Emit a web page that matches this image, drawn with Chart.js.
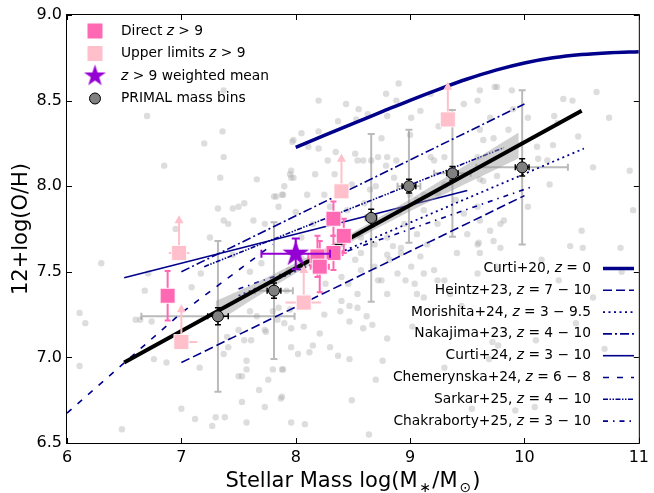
<!DOCTYPE html>
<html>
<head>
<meta charset="utf-8">
<title>Mass-metallicity relation</title>
<script src="https://cdn.jsdelivr.net/npm/chart.js@4.4.1/dist/chart.umd.min.js"></script>
<style>
  html, body { margin: 0; padding: 0; background: #fff; }
  canvas { display: block; }
</style>
</head>
<body>
<canvas id="mzr" width="654" height="493"></canvas>
<script>
const FONT = '"DejaVu Sans", sans-serif';
const NAVY = '#00008B';

// Background PRIMAL galaxies (grey dots).
const bgMass = [
  6.70, 7.37, 7.36, 7.37, 7.34, 7.66, 7.97, 7.96,
  6.11, 6.16, 6.11, 6.48, 7.00, 7.12, 7.27, 7.30, 7.57,
  7.32, 7.45, 7.50, 7.55, 7.37, 7.41, 7.63, 7.73, 7.83, 7.89,
  6.68, 6.71, 6.60, 6.64, 6.74, 6.76, 6.87, 7.16, 7.09, 7.17,
  7.40, 7.41, 7.37, 7.50, 7.55, 7.61, 7.57, 7.50, 7.53, 7.57,
  7.68, 7.76, 7.89, 7.80, 7.87, 7.73, 7.53, 7.38,
  7.73, 7.74, 7.84, 7.90, 7.66, 7.60, 7.80, 7.96,
  8.20, 8.44, 8.53, 8.63, 8.79, 8.88, 8.80, 9.01, 9.09, 9.18,
  9.74, 9.70, 9.61, 9.73, 7.98, 8.05, 7.98, 7.88, 8.52, 8.59,
  8.72, 8.79, 8.88, 9.21, 9.30, 9.59, 9.12, 9.24, 9.59, 9.61,
  9.82, 9.50, 9.59, 9.73, 9.41, 9.61, 8.80, 8.85, 8.80, 8.92,
  9.01, 9.09, 9.12, 8.57, 8.57, 8.69, 8.75, 8.80, 8.96, 7.94,
  7.92, 8.46, 8.54, 8.40,
  9.61, 9.76, 9.89, 10.34, 10.42, 10.63, 10.03, 10.26, 10.29, 9.86,
  9.64, 10.11, 10.25, 10.47, 10.12, 10.60, 10.74, 10.92, 10.95, 9.61,
  9.76, 10.22, 10.03, 9.79, 10.50, 9.60, 9.79, 10.15, 10.40, 10.51,
  10.84,
  8.47, 8.54, 8.39, 8.62, 8.47, 8.59, 8.67, 7.96, 8.07, 8.21,
  8.15, 8.30, 8.12, 8.02, 8.37, 8.47, 7.88, 8.70, 7.88, 8.49,
  7.96, 8.08, 8.64, 8.76, 8.80, 9.02,
  7.81, 7.85, 7.96, 8.17, 8.34, 8.49, 8.54, 8.66, 8.80, 8.86,
  9.18, 9.30, 9.06, 9.12, 9.24, 9.06, 8.92, 8.82, 8.69, 8.54,
  8.52, 8.57, 8.40, 8.26, 8.72, 8.89, 9.04, 9.21, 9.30, 9.12,
  7.85,
  9.72, 9.77, 9.69, 9.30, 10.10, 9.54, 9.92, 10.09,
  8.00, 8.10, 8.05, 8.15, 8.25, 8.00, 8.45, 8.60, 8.70, 8.35,
  8.20, 7.70, 7.60, 7.75, 7.95, 8.10, 8.25, 8.90, 9.00, 9.45,
  7.90, 7.95, 8.11, 8.28, 8.37, 8.20, 9.47, 9.59, 9.64, 9.47,
  9.70, 9.24, 9.06, 9.35, 9.59, 9.76, 8.65, 8.95, 9.15, 9.40,
  8.30, 8.05, 8.75, 9.00, 9.25, 10.30, 10.60, 10.85, 10.45, 10.70,
  6.95, 6.30, 6.85, 7.20, 8.55, 8.90, 9.90, 10.20, 7.45, 7.25
];
const bgOH = [
  8.41, 8.56, 8.32, 8.17, 8.05, 8.04, 8.26, 8.05,
  7.26, 7.20, 6.95, 6.58, 6.70, 6.64, 6.60, 6.65, 6.62,
  7.87, 7.87, 7.88, 7.90, 7.80, 7.78, 7.80, 7.78, 7.94, 7.95,
  7.39, 7.49, 7.22, 7.22, 7.21, 6.99, 6.97, 6.94, 7.41, 7.49,
  7.12, 7.06, 7.02, 7.16, 7.10, 7.10, 6.98, 6.89, 6.89, 6.93,
  6.81, 6.87, 6.93, 6.93, 6.76, 6.71, 6.74, 6.65,
  7.16, 7.15, 7.22, 7.20, 7.24, 7.27, 7.27, 7.06,
  8.50, 8.48, 8.39, 8.42, 8.54, 8.50, 8.41, 8.40, 8.44, 8.54,
  8.58, 8.40, 8.33, 8.28, 8.27, 8.31, 8.05, 7.95, 8.19, 8.15,
  8.17, 8.12, 8.15, 8.15, 8.17, 8.17, 7.95, 7.96, 7.88, 7.80,
  7.80, 7.72, 7.66, 7.68, 7.61, 7.61, 7.70, 7.65, 7.60, 7.61,
  7.53, 7.59, 7.49, 7.70, 7.61, 7.53, 7.45, 7.37, 7.45, 7.51,
  7.39, 7.43, 7.37, 7.33,
  8.56, 8.58, 8.56, 8.51, 8.50, 8.55, 8.40, 8.41, 8.37, 8.33,
  8.27, 8.23, 8.24, 8.29, 8.16, 8.11, 8.40, 8.09, 7.86, 8.04,
  8.06, 8.01, 7.88, 7.78, 7.74, 7.67, 7.64, 7.57, 7.65, 7.64,
  7.64,
  7.30, 7.29, 7.27, 7.24, 7.21, 7.17, 7.19, 7.17, 7.18, 7.14,
  7.07, 7.06, 7.03, 7.02, 7.01, 6.99, 6.93, 6.87, 6.77, 6.75,
  6.62, 6.61, 6.55, 6.98, 7.11, 7.18,
  7.94, 7.88, 8.09, 8.07, 8.07, 8.01, 8.15, 8.15, 8.17, 8.05,
  8.17, 8.01, 7.92, 7.86, 7.78, 7.72, 7.64, 7.57, 7.66, 7.72,
  7.57, 7.51, 7.47, 7.43, 7.45, 7.49, 7.43, 7.51, 7.45, 7.35,
  7.29,
  7.09, 7.07, 6.99, 6.94, 7.10, 6.70, 6.69, 6.71,
  7.85, 7.95, 7.70, 7.78, 7.95, 7.62, 7.86, 7.90, 8.00, 8.20,
  8.22, 7.55, 7.50, 7.42, 7.28, 7.35, 7.25, 7.85, 7.95, 7.30,
  8.00, 8.07, 8.23, 8.15, 8.38, 8.32, 8.48, 8.50, 8.03, 7.84,
  7.74, 7.45, 7.37, 7.37, 7.49, 7.53, 7.98, 7.78, 7.66, 7.92,
  7.88, 7.58, 8.28, 8.30, 8.35, 7.45, 7.35, 7.50, 7.20, 7.05,
  7.75, 7.55, 8.12, 8.25, 8.45, 8.60, 8.45, 8.15, 7.60, 7.70
];

// PRIMAL mass bins: median, spread (grey) and error on the median (black).
const primalMass = [7.32, 7.81, 8.66, 8.99, 9.37, 9.98];
const primalOH = [7.24, 7.39, 7.815, 8.0, 8.075, 8.11];
const primalMassSpread = [0.67, 0.165, 0.05, 0.1, 0.16, 0.4];
const primalOHSpread = [0.44, 0.40, 0.49, 0.33, 0.37, 0.45];
const primalMassErr = [0.09, 0.06, 0.04, 0.06, 0.05, 0.06];
const primalOHErr = [0.05, 0.045, 0.05, 0.04, 0.04, 0.05];

// z > 9 sources
const directMass = [6.88, 8.33, 8.42, 8.33, 8.19, 8.21];
const directOH = [7.36, 7.81, 7.71, 7.61, 7.59, 7.53];
const directMassErr = [0, 0.06, 0.06, 0.08, 0.08, 0.08];
const directOHErr = [0.145, 0.1, 0.1, 0.1, 0.12, 0.15];

const upperMass = [6.98, 7.00, 8.07, 8.40, 9.33];
const upperOH = [7.61, 7.09, 7.32, 7.97, 8.39];
const upperMassLo = [0.09, 0.06, 0.16, 0, 0];
const upperMassHi = [0.09, 0.14, 0.15, 0, 0];
const upperArrow = 0.22;

const meanMass = [8.0];
const meanOH = [7.605];
const meanMassErr = [0.3];
const meanOHErr = [0.09];

// fitted relation and its confidence band
const fitMass = [6.5, 10.5];
const fitOH = [6.97, 8.44];
const bandMass = [7.3, 7.6, 8.0, 8.5, 9.0, 9.5, 9.95];
const bandLo = [7.199, 7.329, 7.491, 7.68, 7.854, 8.018, 8.163];
const bandHi = [7.329, 7.419, 7.551, 7.73, 7.924, 8.128, 8.313];

// literature relations
const curti20Mass = [8.0, 8.25, 8.5, 8.75, 9.0, 9.25, 9.5, 9.75, 10.0, 10.25, 10.5, 10.75, 11.0];
const curti20OH = [8.227, 8.297, 8.366, 8.434, 8.502, 8.566, 8.626, 8.678, 8.720, 8.750, 8.769, 8.780, 8.786];
const heintzMass = [7.0, 10.0];
const heintzOH = [6.97, 7.945];
const morishitaMass = [7.5, 10.52];
const morishitaOH = [7.36, 8.22];
const nakajimaMass = [7.0, 10.0];
const nakajimaOH = [7.50, 8.48];
const curti24Mass = [6.5, 9.5];
const curti24OH = [7.465, 7.975];
const chemerynskaMass = [6.0, 7.0, 7.8];
const chemerynskaOH = [6.675, 7.26, 7.66];
const sarkarMass = [7.2, 9.82];
const sarkarOH = [7.53, 8.225];
const chakrabortyMass = [7.5, 10.08];
const chakrabortyOH = [7.40, 8.0];

const pts = (xs, ys) => xs.map((x, i) => ({ x, y: ys[i] }));

// line styles for the literature relations (also used by the legend)
const litStyles = [
  { label: 'Curti+20, ', z: '0', mass: curti20Mass, oh: curti20OH, dash: [], width: 3.5 },
  { label: 'Heintz+23, ', z: '7 \u2212 10', mass: heintzMass, oh: heintzOH, dash: [9, 4], width: 1.6 },
  { label: 'Morishita+24, ', z: '3 \u2212 9.5', mass: morishitaMass, oh: morishitaOH, dash: [2, 3.5], width: 1.8 },
  { label: 'Nakajima+23, ', z: '4 \u2212 10', mass: nakajimaMass, oh: nakajimaOH, dash: [9, 3, 2, 3], width: 1.6 },
  { label: 'Curti+24, ', z: '3 \u2212 10', mass: curti24Mass, oh: curti24OH, dash: [], width: 1.6 },
  { label: 'Chemerynska+24, ', z: '6 \u2212 8', mass: chemerynskaMass, oh: chemerynskaOH, dash: [6, 8], width: 1.6 },
  { label: 'Sarkar+25, ', z: '4 \u2212 10', mass: sarkarMass, oh: sarkarOH, dash: [5, 1.5, 1.5, 1.5, 1.5, 1.5], width: 1.6 },
  { label: 'Chakraborty+25, ', z: '3 \u2212 10', mass: chakrabortyMass, oh: chakrabortyOH, dash: [5, 5, 1.5, 5], width: 1.6 }
];

function makeStar(R, color) {
  const s = Math.ceil(2 * R + 2);
  const c = document.createElement('canvas');
  c.width = s; c.height = s;
  const g = c.getContext('2d');
  g.translate(s / 2, s / 2);
  g.beginPath();
  for (let k = 0; k < 10; k += 1) {
    const r = k % 2 ? R * 0.382 : R;
    const a = -Math.PI / 2 + k * Math.PI / 5;
    g.lineTo(r * Math.cos(a), r * Math.sin(a));
  }
  g.closePath();
  g.fillStyle = color;
  g.fill();
  return c;
}
const starMarker = makeStar(14, '#9400D3');

// Draw error bars / upper-limit arrows that are attached to a dataset, just
// before the dataset's own markers so the markers sit on top.
function drawBars(chart, b) {
  const { ctx, scales: { x: xs, y: ys }, chartArea: area } = chart;
  ctx.save();
  ctx.beginPath();
  ctx.rect(area.left, area.top, area.right - area.left, area.bottom - area.top);
  ctx.clip();
  ctx.strokeStyle = b.color;
  ctx.fillStyle = b.color;
  ctx.lineWidth = b.width;
  ctx.setLineDash([]);
  const cap = b.cap || 0;
  b.x.forEach((xv, i) => {
    const yv = b.y[i];
    const cx = xs.getPixelForValue(xv);
    const cy = ys.getPixelForValue(yv);
    const xl = b.xlo ? b.xlo[i] : 0;
    const xh = b.xhi ? b.xhi[i] : xl;
    const yl = b.ylo ? b.ylo[i] : 0;
    const yh = b.yhi ? b.yhi[i] : yl;
    if (xl || xh) {
      const x0 = xs.getPixelForValue(xv - xl);
      const x1 = xs.getPixelForValue(xv + xh);
      ctx.beginPath();
      ctx.moveTo(x0, cy); ctx.lineTo(x1, cy);
      if (cap) {
        ctx.moveTo(x0, cy - cap); ctx.lineTo(x0, cy + cap);
        ctx.moveTo(x1, cy - cap); ctx.lineTo(x1, cy + cap);
      }
      ctx.stroke();
    }
    if (yl || yh) {
      const y0 = ys.getPixelForValue(yv - yl);
      const y1 = ys.getPixelForValue(yv + yh);
      ctx.beginPath();
      ctx.moveTo(cx, y0); ctx.lineTo(cx, y1);
      if (cap) {
        ctx.moveTo(cx - cap, y0); ctx.lineTo(cx + cap, y0);
        ctx.moveTo(cx - cap, y1); ctx.lineTo(cx + cap, y1);
      }
      ctx.stroke();
    }
    if (b.arrow) {
      const top = ys.getPixelForValue(yv + b.arrow);
      ctx.beginPath();
      ctx.moveTo(cx, cy); ctx.lineTo(cx, top + 6);
      ctx.stroke();
      ctx.beginPath();
      ctx.moveTo(cx, top);
      ctx.lineTo(cx - 4.5, top + 8);
      ctx.lineTo(cx + 4.5, top + 8);
      ctx.closePath();
      ctx.fill();
    }
  });
  ctx.restore();
}

const errorBarPlugin = {
  id: 'errorBars',
  beforeDatasetDraw(chart, args) {
    const ds = chart.data.datasets[args.index];
    (ds.bars || []).forEach((b) => drawBars(chart, b));
  }
};

function richWidth(ctx, parts, size) {
  let w = 0;
  parts.forEach(([t, it]) => {
    ctx.font = `${it ? 'italic ' : ''}${size}px ${FONT}`;
    w += ctx.measureText(t).width;
  });
  return w;
}
function drawRich(ctx, parts, x, y, size) {
  parts.forEach(([t, it]) => {
    ctx.font = `${it ? 'italic ' : ''}${size}px ${FONT}`;
    ctx.fillText(t, x, y);
    x += ctx.measureText(t).width;
  });
}

// Frame with inward ticks on all four sides, the x-axis title and both legends.
const decorPlugin = {
  id: 'decor',
  afterDraw(chart) {
    const { ctx, chartArea: a, scales: { x: xs, y: ys } } = chart;
    ctx.save();
    ctx.strokeStyle = '#000';
    ctx.lineWidth = 1;
    ctx.setLineDash([]);
    ctx.strokeRect(a.left - 0.5, a.top - 0.5, a.right - a.left + 1, a.bottom - a.top + 1);
    ctx.beginPath();
    xs.ticks.forEach((t) => {
      const p = Math.round(xs.getPixelForValue(t.value)) + 0.5;
      ctx.moveTo(p, a.bottom); ctx.lineTo(p, a.bottom - 5);
      ctx.moveTo(p, a.top); ctx.lineTo(p, a.top + 5);
    });
    ys.ticks.forEach((t) => {
      const p = Math.round(ys.getPixelForValue(t.value)) + 0.5;
      ctx.moveTo(a.left, p); ctx.lineTo(a.left + 5, p);
      ctx.moveTo(a.right, p); ctx.lineTo(a.right - 5, p);
    });
    ctx.stroke();

    // x-axis title with subscripts
    ctx.fillStyle = '#000';
    ctx.textBaseline = 'alphabetic';
    const title = [['Stellar Mass log(M', 21, 0], ['\u2217', 14, 5], ['/M', 21, 0], ['\u2299', 14, 5], [')', 21, 0]];
    let tw = 0;
    title.forEach(([t, s]) => { ctx.font = `${s}px ${FONT}`; tw += ctx.measureText(t).width + (s < 20 ? 3 : 0); });
    let tx = (a.left + a.right) / 2 - tw / 2;
    title.forEach(([t, s, dy]) => {
      ctx.font = `${s}px ${FONT}`;
      if (s < 20) tx += 2;
      ctx.fillText(t, tx, 487 + dy);
      tx += ctx.measureText(t).width + (s < 20 ? 1 : 0);
    });

    // upper-left legend
    const LS = 13.8;
    ctx.textBaseline = 'middle';
    const leftRows = [
      { y: 31, parts: [['Direct ', 0], ['z', 1], [' > 9', 0]], mark: 'sq', color: '#FF69B4' },
      { y: 53.5, parts: [['Upper limits ', 0], ['z', 1], [' > 9', 0]], mark: 'sq', color: '#FFC0CB' },
      { y: 76, parts: [['z', 1], [' > 9 weighted mean', 0]], mark: 'star' },
      { y: 98.5, parts: [['PRIMAL mass bins', 0]], mark: 'dot' }
    ];
    leftRows.forEach((r) => {
      const mx = 95;
      if (r.mark === 'sq') {
        ctx.fillStyle = r.color;
        ctx.fillRect(mx - 7.5, r.y - 7.5, 15, 15);
      } else if (r.mark === 'star') {
        const st = makeStar(11.5, '#9400D3');
        ctx.drawImage(st, mx - st.width / 2, r.y - st.height / 2);
      } else {
        ctx.beginPath();
        ctx.arc(mx, r.y, 5.5, 0, Math.PI * 2);
        ctx.fillStyle = '#808080';
        ctx.fill();
        ctx.strokeStyle = '#000';
        ctx.stroke();
      }
      ctx.fillStyle = '#000';
      drawRich(ctx, r.parts, 121, r.y, LS);
    });

    // lower-right legend: text first, line sample after it
    litStyles.forEach((s, i) => {
      const y = 268.5 + i * 21.8;
      const parts = [[s.label, 0], ['z', 1], [' = ' + s.z, 0]];
      const w = richWidth(ctx, parts, LS);
      ctx.fillStyle = '#000';
      drawRich(ctx, parts, 591 - w, y, LS);
      ctx.strokeStyle = NAVY;
      ctx.lineWidth = s.width;
      ctx.setLineDash(s.dash);
      ctx.beginPath();
      ctx.moveTo(603, y); ctx.lineTo(634, y);
      ctx.stroke();
    });
    ctx.restore();
  }
};

const lineSet = (data, color, width, dash, order, extra) => Object.assign({
  data, borderColor: color, borderWidth: width, borderDash: dash || [],
  pointRadius: 0, showLine: true, fill: false, tension: 0, order
}, extra || {});

const datasets = [
  {
    data: pts(bgMass, bgOH), showLine: false, pointRadius: 3.2, pointBorderWidth: 0,
    pointBackgroundColor: 'rgba(170,170,170,0.4)', order: 100
  },
  {
    // carrier for the grey spread bars of the mass bins
    data: pts(primalMass, primalOH), showLine: false, pointRadius: 0, order: 90,
    bars: [{
      x: primalMass, y: primalOH, xlo: primalMassSpread, ylo: primalOHSpread,
      color: 'rgba(140,140,140,0.6)', width: 2, cap: 3.5
    }]
  }
];
litStyles.forEach((s) => {
  datasets.push(lineSet(pts(s.mass, s.oh), NAVY, s.width, s.dash, 50,
    s.mass.length > 3 ? { cubicInterpolationMode: 'monotone' } : {}));
});
const bandIndex = datasets.length;
datasets.push(lineSet(pts(bandMass, bandLo), 'rgba(0,0,0,0)', 0, [], 46));
datasets.push(lineSet(pts(bandMass, bandHi), 'rgba(0,0,0,0)', 0, [], 45,
  { fill: bandIndex, backgroundColor: 'rgba(150,150,150,0.45)', cubicInterpolationMode: 'monotone' }));
datasets[bandIndex].cubicInterpolationMode = 'monotone';
datasets.push(lineSet(pts(fitMass, fitOH), '#000', 4, [], 40));
datasets.push({
  data: pts(primalMass, primalOH), showLine: false, order: 30,
  pointStyle: 'circle', pointRadius: 5.5, pointBackgroundColor: '#808080',
  pointBorderColor: '#000', pointBorderWidth: 1,
  bars: [{
    x: primalMass, y: primalOH, xlo: primalMassErr, ylo: primalOHErr,
    color: '#000', width: 1.5, cap: 3
  }]
});
datasets.push({
  data: pts(upperMass, upperOH), showLine: false, order: 20,
  pointStyle: 'rect', pointRadius: 10.6, pointBackgroundColor: '#FFC0CB',
  pointBorderColor: 'rgba(255,255,255,0.8)', pointBorderWidth: 1,
  bars: [{
    x: upperMass, y: upperOH, xlo: upperMassLo, xhi: upperMassHi,
    arrow: upperArrow, color: '#FFC0CB', width: 2
  }]
});
datasets.push({
  data: pts(directMass, directOH), showLine: false, order: 10,
  pointStyle: 'rect', pointRadius: 10.6, pointBackgroundColor: '#FF69B4',
  pointBorderColor: 'rgba(255,255,255,0.9)', pointBorderWidth: 1,
  bars: [{
    x: directMass, y: directOH, xlo: directMassErr, ylo: directOHErr,
    color: '#FF69B4', width: 2, cap: 3
  }]
});
datasets.push({
  data: pts(meanMass, meanOH), showLine: false, order: 5,
  pointStyle: starMarker, pointRadius: 14,
  bars: [{
    x: meanMass, y: meanOH, xlo: meanMassErr, ylo: meanOHErr,
    color: '#9400D3', width: 2, cap: 4
  }]
});

new Chart(document.getElementById('mzr'), {
  type: 'line',
  data: { datasets },
  plugins: [errorBarPlugin, decorPlugin],
  options: {
    responsive: false,
    devicePixelRatio: 1,
    animation: false,
    events: [],
    layout: { padding: { left: 0, right: 11, top: 14, bottom: 0 } },
    plugins: { legend: { display: false }, tooltip: { enabled: false } },
    scales: {
      x: {
        type: 'linear', min: 6, max: 11,
        grid: { display: false, drawTicks: false },
        border: { display: false },
        ticks: {
          stepSize: 1, autoSkip: false, maxRotation: 0, padding: 5, color: '#000',
          font: { family: FONT, size: 16 }, callback: (v) => String(v)
        },
        afterFit: (s) => { s.height = 50; }
      },
      y: {
        type: 'linear', min: 6.5, max: 9.0,
        grid: { display: false, drawTicks: false },
        border: { display: false },
        ticks: {
          stepSize: 0.5, autoSkip: false, padding: 5, color: '#000',
          font: { family: FONT, size: 16 }, callback: (v) => v.toFixed(1)
        },
        title: {
          display: true, text: '12+log(O/H)', color: '#000',
          font: { family: FONT, size: 21 }, padding: { top: 9, bottom: 0 }
        },
        afterFit: (s) => { s.width = 67; }
      }
    }
  }
});
</script>
</body>
</html>
